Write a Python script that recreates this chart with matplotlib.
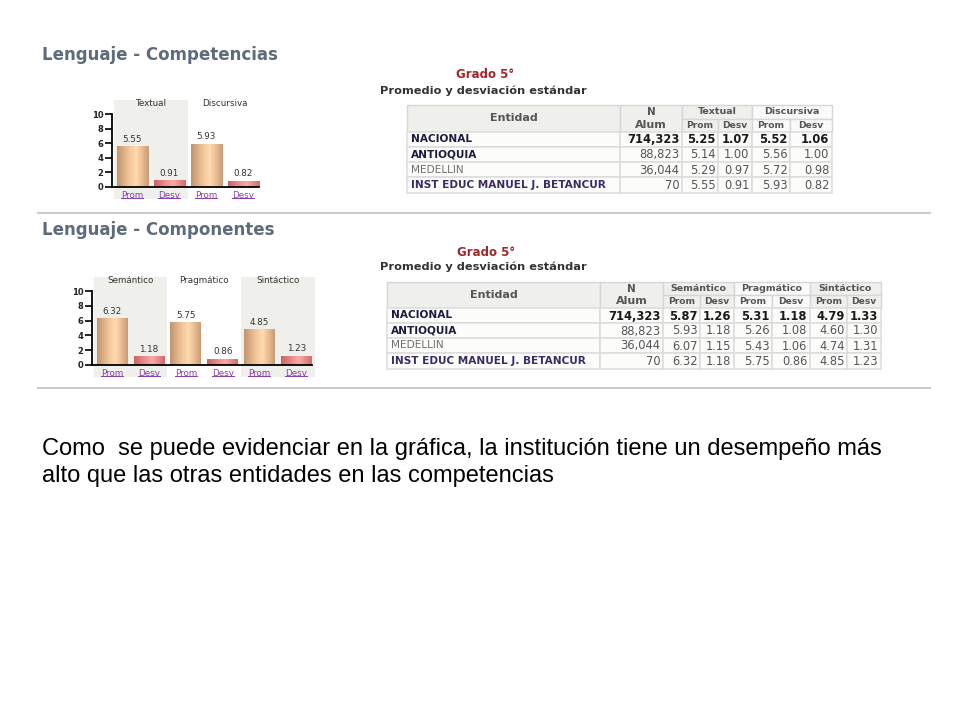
import matplotlib
matplotlib.use("Agg")
import matplotlib.pyplot as plt
from matplotlib.patches import Rectangle
from matplotlib.colors import LinearSegmentedColormap
import numpy as np

plt.rcParams['font.family'] = ['DejaVu Sans']

# ---------------- data ----------------
entities = ["NACIONAL", "ANTIOQUIA", "MEDELLIN", "INST EDUC MANUEL J. BETANCUR"]
n_alum = ["714,323", "88,823", "36,044", "70"]

comp_names = ["Textual", "Discursiva"]
comp_prom = [[5.25, 5.14, 5.29, 5.55], [5.52, 5.56, 5.72, 5.93]]
comp_desv = [[1.07, 1.00, 0.97, 0.91], [1.06, 1.00, 0.98, 0.82]]

compo_names = ["Semántico", "Pragmático", "Sintáctico"]
compo_prom = [[5.87, 5.93, 6.07, 6.32], [5.31, 5.26, 5.43, 5.75], [4.79, 4.60, 4.74, 4.85]]
compo_desv = [[1.26, 1.18, 1.15, 1.18], [1.18, 1.08, 1.06, 0.86], [1.33, 1.30, 1.31, 1.23]]

bar_labels = ["Prom", "Desv"]
y_ticks = [0, 2, 4, 6, 8, 10]

title1 = "Lenguaje - Competencias"
title2 = "Lenguaje - Componentes"
grado = "Grado 5°"
subtitulo = "Promedio y desviación estándar"
parrafo = ["Como  se puede evidenciar en la gráfica, la institución tiene un desempeño más",
           "alto que las otras entidades en las competencias"]

# ---------------- figure ----------------
W, H = 960, 720
fig = plt.figure(figsize=(9.6, 7.2), dpi=100)
fig.patch.set_facecolor("white")
ov = fig.add_axes([0, 0, 1, 1], zorder=0)
ov.set_xlim(0, W)
ov.set_ylim(H, 0)
ov.axis("off")

TITLE_C = "#5d6b7a"
GRAY_BG = "#efefeb"

prom_cmap = LinearSegmentedColormap.from_list(
    "prom", ["#bf9470", "#dcae84", "#f3c89c", "#ffd9b0", "#e9bb8f", "#c89c76"])
desv_cmap = LinearSegmentedColormap.from_list(
    "desv", ["#c86464", "#de7b7b", "#f09494", "#f8a8a8", "#e88888", "#cf6c6c"])


def px_axes(left, top, right, bottom):
    return fig.add_axes([left / W, (H - bottom) / H, (right - left) / W, (bottom - top) / H], zorder=2)


def bar_chart(ax, names, prom, desv, xlim, ylim, gray_groups):
    ax.set_facecolor("none")
    vals, cmaps = [], []
    for g in range(len(names)):
        vals += [prom[g][-1], desv[g][-1]]
        cmaps += [prom_cmap, desv_cmap]
    x = np.arange(len(vals))
    for g in gray_groups:
        ax.axvspan(2 * g - 0.5, 2 * g + 1.5, color=GRAY_BG, zorder=0, lw=0)
    bars = ax.bar(x, vals, width=0.84, color="none", zorder=2)
    grad = np.linspace(0, 1, 64).reshape(1, -1)
    for b, cm in zip(bars, cmaps):
        im = ax.imshow(grad, cmap=cm, aspect="auto", zorder=2,
                       extent=[b.get_x(), b.get_x() + b.get_width(), 0, b.get_height()])
        im.set_clip_path(b)
    for xi, v in zip(x, vals):
        ax.text(xi, v + 0.35, f"{v:.2f}", ha="center", va="bottom", fontsize=6.3, color="#333333", zorder=3)
        ax.text(xi, -0.55, bar_labels[xi % 2], ha="center", va="top", fontsize=6.3, color="#8a3fa8", zorder=3)
        ax.plot([xi - 0.3, xi + 0.3], [-1.5, -1.5], color="#8a3fa8", lw=0.7, zorder=3)
    for g, nm in enumerate(names):
        ax.text(2 * g + 0.5, ylim[1] - 0.55, nm, ha="center", va="center", fontsize=6.3, color="#333333")
    ax.set_xlim(*xlim)
    ax.set_ylim(*ylim)
    for s in ["top", "right"]:
        ax.spines[s].set_visible(False)
    ax.spines["left"].set_bounds(0, 10)
    ax.spines["left"].set_linewidth(1.3)
    ax.spines["bottom"].set_position(("data", 0))
    ax.spines["bottom"].set_bounds(xlim[0], x[-1] + 0.42)
    ax.spines["bottom"].set_linewidth(1.3)
    ax.set_xticks([])
    ax.set_yticks(y_ticks)
    ax.set_yticklabels([str(t) for t in y_ticks], fontsize=6, fontweight="bold", color="#222222")
    ax.tick_params(axis="y", length=5, width=1.2, pad=1)


# chart 1
ax1 = px_axes(111.7, 99.8, 263.4, 199.0)
bar_chart(ax1, comp_names, comp_prom, comp_desv, (-0.55, 3.55), (-1.65, 11.95), [0])
# chart 2
ax2 = px_axes(91.6, 276.6, 316.4, 377.2)
bar_chart(ax2, compo_names, compo_prom, compo_desv, (-0.56, 5.55), (-1.65, 11.95), [0, 2])

# titles
ov.text(42, 55, title1, fontsize=12, fontweight="bold", color=TITLE_C, va="center", ha="left")
ov.text(42, 230, title2, fontsize=12, fontweight="bold", color=TITLE_C, va="center", ha="left")

# horizontal rules
for yy in (213, 388):
    ov.plot([38, 930], [yy, yy], color="#c9c9c9", lw=1.4)


def draw_table(x_edges, y_edges, names, prom, desv, grado_xy, sub_xy):
    ov.text(*grado_xy, grado, fontsize=8.5, fontweight="bold", color="#a3262a", ha="center", va="center")
    ov.text(*sub_xy, subtitulo, fontsize=8.2, fontweight="bold", color="#333333", ha="left", va="center")
    hc = "#555555"
    y0, y1, y2 = y_edges[0], y_edges[1], y_edges[2]
    ov.add_patch(Rectangle((x_edges[0], y0), x_edges[1] - x_edges[0], y2 - y0, fc=GRAY_BG, ec="#d6d6d6", lw=1))
    ov.text((x_edges[0] + x_edges[1]) / 2, (y0 + y2) / 2, "Entidad", fontsize=8, fontweight="bold", color=hc, ha="center", va="center")
    ov.add_patch(Rectangle((x_edges[1], y0), x_edges[2] - x_edges[1], y2 - y0, fc=GRAY_BG, ec="#d6d6d6", lw=1))
    ov.text((x_edges[1] + x_edges[2]) / 2, (y0 + y1) / 2 + 0.5, "N", fontsize=7.5, fontweight="bold", color=hc, ha="center", va="center")
    ov.text((x_edges[1] + x_edges[2]) / 2, (y1 + y2) / 2, "Alum", fontsize=8, fontweight="bold", color=hc, ha="center", va="center")
    for g, nm in enumerate(names):
        xa, xb, xc = x_edges[2 + 2 * g], x_edges[3 + 2 * g], x_edges[4 + 2 * g]
        fc = GRAY_BG if g % 2 == 0 else "#fafafa"
        ov.add_patch(Rectangle((xa, y0), xc - xa, y1 - y0, fc=fc, ec="#d6d6d6", lw=1))
        ov.text((xa + xc) / 2, (y0 + y1) / 2, nm, fontsize=6.8, fontweight="bold", color=hc, ha="center", va="center")
        for k, (l, r) in enumerate([(xa, xb), (xb, xc)]):
            ov.add_patch(Rectangle((l, y1), r - l, y2 - y1, fc=fc, ec="#d6d6d6", lw=1))
            ov.text((l + r) / 2, (y1 + y2) / 2, bar_labels[k], fontsize=6.6, fontweight="bold", color=hc, ha="center", va="center")
    ent_styles = [("bold", "#1b1b40"), ("bold", "#1b1b40"), ("normal", "#707070"), ("bold", "#3b2a66")]
    for i, ent in enumerate(entities):
        ya, yb = y_edges[2 + i], y_edges[3 + i]
        yc = (ya + yb) / 2
        for c in range(len(x_edges) - 1):
            ov.add_patch(Rectangle((x_edges[c], ya), x_edges[c + 1] - x_edges[c], yb - ya, fc="#fcfcfb", ec="#dcdcdc", lw=1.1))
        fw, col = ent_styles[i]
        ov.text(x_edges[0] + 4, yc, ent, fontsize=7.6, fontweight=fw, color=col, ha="left", va="center")
        nfw = "bold" if i == 0 else "normal"
        ncol = "#1a1a1a" if i == 0 else "#555555"
        cells = [n_alum[i]]
        for g in range(len(names)):
            cells += [f"{prom[g][i]:.2f}", f"{desv[g][i]:.2f}"]
        for c, t in enumerate(cells):
            ov.text(x_edges[c + 2] - 2.5, yc + 0.5, t, fontsize=8.3, fontweight=nfw, color=ncol, ha="right", va="center")


draw_table([407, 620, 682, 718, 752, 790, 832],
           [105, 118.5, 131.7, 146.7, 161.9, 177.3, 193],
           comp_names, comp_prom, comp_desv, (485, 75), (380, 91))
draw_table([387, 600, 663, 700, 734, 772, 810, 847, 881],
           [282, 295, 308, 323, 338, 353, 368.5],
           compo_names, compo_prom, compo_desv, (486, 252), (380, 267))

# paragraph
for k, line in enumerate(parrafo):
    ov.text(42, 449 + 27 * k, line, fontsize=17, family=["Liberation Sans", "DejaVu Sans"],
            color="black", ha="left", va="center")

fig.savefig("out.png", dpi=100, facecolor="white")
